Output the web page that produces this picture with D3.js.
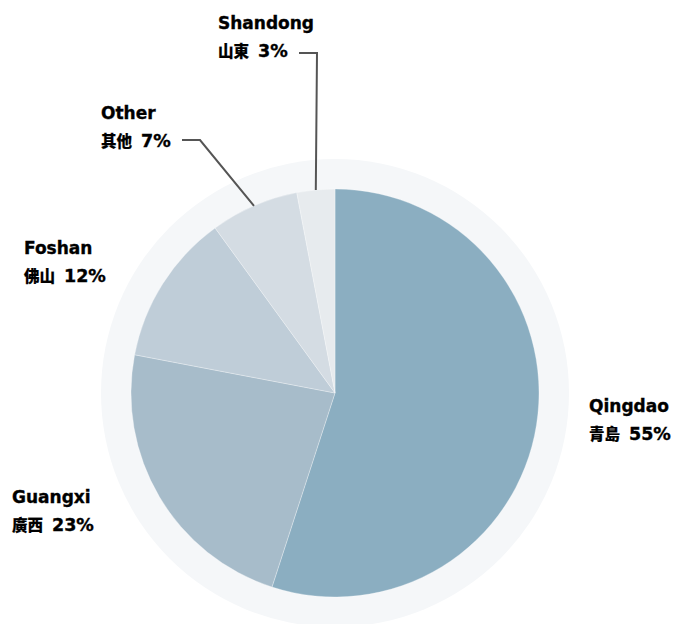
<!DOCTYPE html>
<html>
<head>
<meta charset="utf-8">
<script src="https://cdn.jsdelivr.net/npm/d3@7"></script>
<style>
  html, body { margin: 0; padding: 0; background: #fff; }
  svg { display: block; }
  .lbl { font-family: "DejaVu Sans", sans-serif; font-weight: bold; fill: #000; stroke: #000; stroke-width: 0.35px; }
  .cjk { font-family: "Noto Sans CJK TC", "Noto Sans CJK SC", sans-serif; font-weight: 900; stroke-width: 0.2px; }
</style>
</head>
<body>
<div id="chart"></div>
<script>
const categories = ["Qingdao", "Guangxi", "Foshan", "Other", "Shandong"];
const localNames = ["青島", "廣西", "佛山", "其他", "山東"];
const shares = [55, 23, 12, 7, 3];

const colors = ["#8BAEC1", "#A7BCCA", "#BFCDD8", "#D4DCE3", "#E7EBEE"];

// label block placement (left x, first baseline) and whether it uses a leader line
const labelLayout = {
  Qingdao:  { x: 589, y: 412 },
  Guangxi:  { x: 12,  y: 503 },
  Foshan:   { x: 24,  y: 254 },
  Other:    { x: 101, y: 119, leader: { elbowX: 200, lineY: 140 } },
  Shandong: { x: 218, y: 29,  leader: { elbowX: 317, lineY: 53 } }
};

const width = 677;
const height = 624;
const cx = 335, cy = 393;
const radius = 204;
const ringRadius = 234;

const data = categories.map((c, i) => ({ name: c, local: localNames[i], value: shares[i] }));

const svg = d3.select("#chart")
  .append("svg")
  .attr("width", width)
  .attr("height", height);

const color = d3.scaleOrdinal().domain(categories).range(colors);

const g = svg.append("g").attr("transform", `translate(${cx},${cy})`);

g.append("circle")
  .attr("r", ringRadius)
  .attr("fill", "#F5F7F9");

const pie = d3.pie().sort(null).value(d => d.value);
const arc = d3.arc().innerRadius(0).outerRadius(radius);
const arcs = pie(data);

g.selectAll("path.slice")
  .data(arcs)
  .join("path")
  .attr("class", "slice")
  .attr("d", arc)
  .attr("fill", d => color(d.data.name))
  .attr("stroke", "#fff")
  .attr("stroke-opacity", 0.5)
  .attr("stroke-width", 0.6);

// labels
const labels = svg.append("g");

arcs.forEach(d => {
  const lay = labelLayout[d.data.name];
  const t = labels.append("text")
    .attr("class", "lbl")
    .attr("x", lay.x)
    .attr("y", lay.y)
    .style("font-size", "17px");
  t.append("tspan").attr("x", lay.x).text(d.data.name);
  const line2 = t.append("tspan").attr("x", lay.x).attr("dy", 28);
  line2.append("tspan").attr("class", "cjk").style("font-size", "15.5px").text(d.data.local);
  line2.append("tspan").attr("dx", 9).style("font-size", "17.5px").text(d.data.value + "%");

  if (lay.leader) {
    const mid = (d.startAngle + d.endAngle) / 2;
    const ax = cx + radius * Math.sin(mid);
    const ay = cy - radius * Math.cos(mid);
    const ex = lay.leader.elbowX;
    const ly = lay.leader.lineY;
    const pts = [[ex - 18, ly], [ex, ly], [ax, ay]];
    svg.append("path")
      .attr("d", d3.line()(pts))
      .attr("fill", "none")
      .attr("stroke", "#555")
      .attr("stroke-width", 2);
  }
});
</script>
</body>
</html>
